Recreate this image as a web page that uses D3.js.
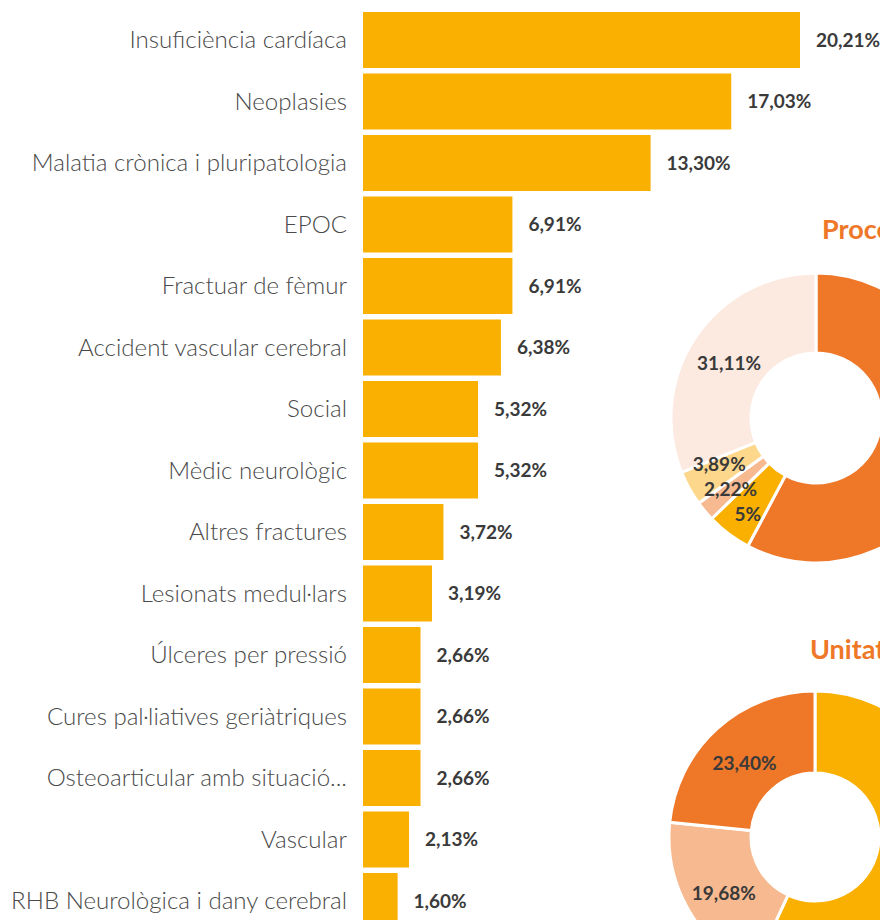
<!DOCTYPE html>
<html lang="ca">
<head>
    <meta charset="UTF-8">
    <title>Diagnòstics i procedència</title>
    <script src="https://d3js.org/d3.v7.min.js"></script>
    <style>
        body {
            margin: 0;
            background: #fff;
        }
        svg {
            display: block;
            font-family: Lato, "Open Sans", sans-serif;
        }
        .cat {
            font-size: 24.1px;
            font-weight: 300;
            fill: #4a4a4a;
        }
        .val {
            font-size: 19px;
            font-weight: 700;
            fill: #3a3a3a;
        }
        .title {
            font-size: 27px;
            font-weight: 700;
            fill: #ee7728;
        }
    </style>
</head>
<body>
    <div id="chart"></div>

    <script>
        // Bar chart data (percentages)
        const categories = [
            'Insuficiència cardíaca',
            'Neoplasies',
            'Malatia crònica i pluripatologia',
            'EPOC',
            'Fractuar de fèmur',
            'Accident vascular cerebral',
            'Social',
            'Mèdic neurològic',
            'Altres fractures',
            'Lesionats medul·lars',
            'Úlceres per pressió',
            'Cures pal·liatives geriàtriques',
            'Osteoarticular amb situació...',
            'Vascular',
            'RHB Neurològica i dany cerebral'
        ];
        const values = [20.21, 17.03, 13.30, 6.91, 6.91, 6.38, 5.32, 5.32, 3.72, 3.19, 2.66, 2.66, 2.66, 2.13, 1.60];

        // Donut 1
        const originTitle = 'Procedència dels pacients';
        const originValues = [57.78, 5, 2.22, 3.89, 31.11];
        const originColors = ['#ee7728', '#f9b000', '#f6b990', '#fdd78b', '#fce9e0'];

        // Donut 2
        const unitTitle = 'Unitat de procedència';
        const unitValues = [56.92, 19.68, 23.40];
        const unitColors = ['#f9b000', '#f6b990', '#ee7728'];

        const width = 880, height = 920;
        const fmt = v => (Number.isInteger(v) ? String(v) : v.toFixed(2).replace('.', ',')) + '%';

        const svg = d3.select('#chart')
            .append('svg')
            .attr('width', width)
            .attr('height', height);

        // scales for bars
        const step = 61.5;
        const y = d3.scaleBand()
            .domain(categories)
            .range([9.25, 9.25 + categories.length * step])
            .paddingInner(0.0894)
            .paddingOuter(0.0447);

        const x = d3.scaleLinear()
            .domain([0, 20.21])
            .range([363, 800]);

        const bars = svg.append('g');

        bars.selectAll('rect')
            .data(values)
            .enter()
            .append('rect')
            .attr('x', x(0))
            .attr('y', (d, i) => y(categories[i]))
            .attr('width', d => x(d) - x(0))
            .attr('height', y.bandwidth())
            .attr('fill', '#f9b000');

        bars.selectAll('text.cat')
            .data(categories)
            .enter()
            .append('text')
            .attr('class', 'cat')
            .attr('x', x(0) - 16)
            .attr('y', d => y(d) + y.bandwidth() / 2)
            .attr('dy', '0.35em')
            .attr('text-anchor', 'end')
            .text(d => d);

        bars.selectAll('text.val')
            .data(values)
            .enter()
            .append('text')
            .attr('class', 'val')
            .attr('x', d => x(d) + 16)
            .attr('y', (d, i) => y(categories[i]) + y.bandwidth() / 2)
            .attr('dy', '0.35em')
            .text(d => fmt(d));

        // donuts
        function donut(cx, cy, outer, inner, vals, colors, title, titleX, titleY) {
            const g = svg.append('g').attr('transform', `translate(${cx},${cy})`);
            const pie = d3.pie().sort(null).value(d => d);
            const arc = d3.arc().innerRadius(inner).outerRadius(outer);
            const arcs = pie(vals);

            g.selectAll('path')
                .data(arcs)
                .enter()
                .append('path')
                .attr('d', arc)
                .attr('fill', (d, i) => colors[i])
                .attr('stroke', '#fff')
                .attr('stroke-width', 3);

            // label positions at centroid, spread apart when too close
            const pos = arcs.map(a => arc.centroid(a));
            for (let k = 0; k < 30; k++) {
                for (let i = 0; i < pos.length; i++) {
                    for (let j = i + 1; j < pos.length; j++) {
                        const dy = pos[j][1] - pos[i][1];
                        const dx = pos[j][0] - pos[i][0];
                        if (Math.abs(dy) < 25 && Math.abs(dx) < 60) {
                            const push = (25 - Math.abs(dy)) / 2 * (dy >= 0 ? 1 : -1);
                            pos[i][1] -= push;
                            pos[j][1] += push;
                        }
                    }
                }
            }

            g.selectAll('text')
                .data(arcs)
                .enter()
                .append('text')
                .attr('class', 'val')
                .attr('x', (d, i) => pos[i][0] - (d.data < 10 ? 5 : 0))
                .attr('y', (d, i) => pos[i][1] + 4)
                .attr('dy', '0.35em')
                .attr('text-anchor', 'middle')
                .text(d => fmt(d.data));

            svg.append('text')
                .attr('class', 'title')
                .attr('x', titleX)
                .attr('y', titleY)
                .text(title);
        }

        donut(816, 418, 145, 65, originValues, originColors, originTitle, 822, 239);
        donut(815, 837, 146, 64, unitValues, unitColors, unitTitle, 810, 659);
    </script>
</body>
</html>
